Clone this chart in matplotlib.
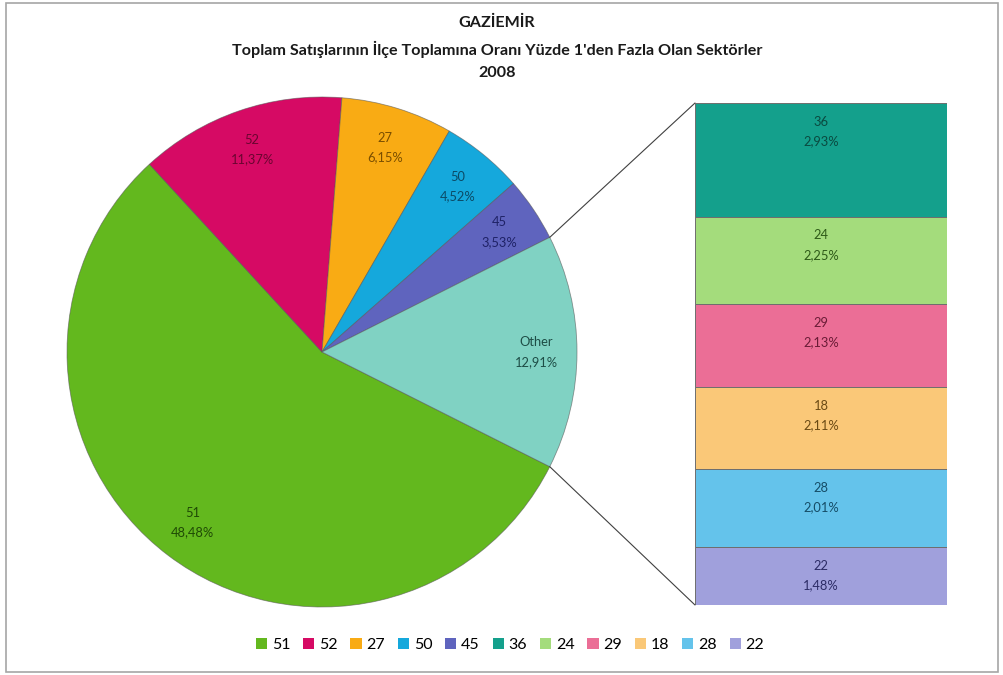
import numpy as np
import matplotlib.pyplot as plt
from matplotlib.patches import ConnectionPatch, Patch, Rectangle

plt.rcParams['font.family'] = ['Lato', 'DejaVu Sans']

# pie part
pie_names = ["51", "52", "27", "50", "45", "Other"]
pie_vals = [48.48, 11.37, 6.15, 4.52, 3.53, 12.91]
pie_colors = ["#63b81e", "#d60a64", "#f9ab14", "#15a8dc", "#5f64be", "#80d2c3"]
pie_text = ["#1f4a05", "#6a0530", "#7a4e00", "#0b4a66", "#1f2266", "#1e4d46"]

# bar part (breakdown of "Other"), top to bottom
bar_names = ["36", "24", "29", "18", "28", "22"]
bar_vals = [2.93, 2.25, 2.13, 2.11, 2.01, 1.48]
bar_colors = ["#14a08c", "#a4dc7c", "#eb6e96", "#fac878", "#64c3eb", "#a0a0dc"]
bar_text = ["#0a4a40", "#2e5a18", "#6a1c36", "#6a4a14", "#154c66", "#2c2c66"]

title = "GAZİEMİR\nToplam Satışlarının İlçe Toplamına Oranı Yüzde 1'den Fazla Olan Sektörler\n2008"


def fmt(v):
    return f"{v:.2f}%".replace(".", ",")


fig = plt.figure(figsize=(10.04, 6.75), dpi=100)
ax = fig.add_axes([0, 0, 1, 1])

cx, cy, r = 322, 323, 255
other_frac = pie_vals[-1] / sum(pie_vals)
start = -360 * other_frac / 2

labels = [f"{n}\n{fmt(v)}" for n, v in zip(pie_names, pie_vals)]
wedges, texts = ax.pie(pie_vals, colors=pie_colors, labels=labels, labeldistance=0.84,
                       startangle=start, counterclock=False, center=(cx, cy), radius=r,
                       wedgeprops=dict(edgecolor="#55555599", linewidth=0.6))
for t, c in zip(texts, pie_text):
    t.set_ha("center")
    t.set_va("center")
    t.set_color(c)
    t.set_fontsize(9.3)
    t.set_linespacing(1.75)

ax.set_xlim(0, 1004)
ax.set_ylim(0, 675)
ax.set_aspect("equal")
ax.axis("off")

# chart border
ax.add_patch(Rectangle((6, 3), 992, 669, fill=False, edgecolor="#a6a6a6", linewidth=1.2))

fig.text(0.495, 0.976, title, ha="center", va="top", fontsize=11.6, fontweight="bold",
         linespacing=1.75, color="#1a1a1a")

# stacked bar
bx = fig.add_axes([695 / 1004, 70 / 675, 252 / 1004, 502 / 675])
total = sum(bar_vals)
bottom = total
for n, v, c, tc in zip(bar_names, bar_vals, bar_colors, bar_text):
    bottom -= v
    bx.bar(0, v, bottom=bottom, width=1, color=c, edgecolor="#6e6e6e", linewidth=0.7)
    bx.annotate(f"{n}\n{fmt(v)}", (0, bottom + v), xytext=(0, -9), textcoords="offset points",
                ha="center", va="top", fontsize=9.3, color=tc, linespacing=1.75)
bx.set_xlim(-0.5, 0.5)
bx.set_ylim(0, total)
bx.axis("off")

# connector lines
a = np.deg2rad(360 * other_frac / 2)
for sgn, yb in [(1, total), (-1, 0)]:
    p = (cx + r * np.cos(a), cy + sgn * r * np.sin(a))
    con = ConnectionPatch(xyA=p, coordsA=ax.transData, xyB=(-0.5, yb), coordsB=bx.transData,
                          color="#404040", linewidth=0.8)
    fig.add_artist(con)

handles = [Patch(facecolor=c, edgecolor="none") for c in pie_colors[:-1] + bar_colors]
fig.legend(handles, pie_names[:-1] + bar_names, loc="center", bbox_to_anchor=(0.508, 0.045),
           ncol=11, frameon=False, fontsize=11.5, handlelength=0.7, handleheight=0.7,
           handletextpad=0.3, columnspacing=0.8)

fig.savefig("out.png", dpi=100)
